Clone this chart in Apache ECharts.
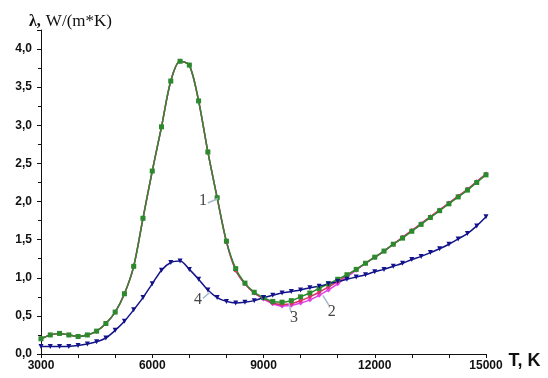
<!DOCTYPE html>
<html><head><meta charset="utf-8">
<script src="https://cdn.jsdelivr.net/npm/echarts@6/dist/echarts.min.js"></script>
<style>html,body{margin:0;padding:0;background:#fff}#c{width:548px;height:378px}</style>
</head><body><div id="c"></div>
<script>
// Temperature, K
const temps = [3000,3250,3500,3750,4000,4250,4500,4750,5000,5250,5500,5750,6000,6250,6500,6750,7000,7250,7500,7750,8000,8250,8500,8750,9000,9250,9500,9750,10000,10250,10500,10750,11000,11250,11500,11750,12000,12250,12500,12750,13000,13250,13500,13750,14000,14250,14500,14750,15000];
// Curve 1 (green)
const curve1 = [0.20,0.25,0.27,0.25,0.23,0.25,0.30,0.40,0.55,0.79,1.15,1.78,2.40,2.98,3.58,3.84,3.79,3.32,2.65,2.05,1.48,1.12,0.93,0.81,0.74,0.69,0.68,0.70,0.75,0.80,0.86,0.92,0.98,1.04,1.11,1.19,1.27,1.35,1.44,1.52,1.61,1.70,1.79,1.88,1.97,2.06,2.15,2.25,2.35];
// Curve 2 (red)
const curve2 = [0.20,0.25,0.27,0.25,0.23,0.25,0.30,0.40,0.55,0.79,1.15,1.78,2.40,2.98,3.58,3.84,3.79,3.32,2.65,2.05,1.47,1.10,0.92,0.80,0.73,0.67,0.65,0.66,0.70,0.75,0.81,0.88,0.95,1.03,1.11,1.19,1.27,1.35,1.44,1.53,1.62,1.71,1.80,1.89,1.98,2.07,2.16,2.26,2.36];
// Curve 3 (magenta)
const curve3 = [0.20,0.25,0.27,0.25,0.23,0.25,0.30,0.40,0.55,0.79,1.15,1.78,2.40,2.98,3.58,3.84,3.79,3.32,2.65,2.05,1.47,1.10,0.92,0.80,0.72,0.66,0.63,0.64,0.67,0.71,0.77,0.84,0.92,1.01,1.10,1.19,1.27,1.35,1.44,1.53,1.62,1.71,1.80,1.89,1.98,2.07,2.16,2.26,2.36];
// Curve 4 (navy)
const curve4 = [0.10,0.10,0.10,0.10,0.11,0.13,0.16,0.21,0.31,0.43,0.58,0.74,0.92,1.10,1.20,1.22,1.11,0.98,0.84,0.74,0.69,0.67,0.68,0.70,0.74,0.77,0.80,0.82,0.84,0.87,0.89,0.92,0.95,0.98,1.01,1.04,1.08,1.11,1.15,1.19,1.24,1.28,1.33,1.38,1.44,1.51,1.58,1.68,1.80];

const xTicks = [3000, 15000, 3000];      // min, max, interval
const yTicks = [0, 4.25, 0.5];
const curveNames = ['1','2','3','4'];
// annotation labels (data coords) and leader lines
const labelAt = [[7366,2.01],[10843,0.55],[9820,0.47],[7231,0.71]];
const leaderFrom = [[7500,1.98],[10762,0.64],[9740,0.55],[7366,0.73]];
const leaderTo = [[7770,2.04],[10600,0.77],[9684,0.67],[7555,0.81]];

function pairs(ys){ return temps.map((t,i)=>[t,ys[i]]); }
const labelFont = {fontFamily:'Liberation Serif', fontSize:16, color:'#444'};

function annot(i){
  return {
    markPoint:{silent:true, symbol:'circle', symbolSize:0, animation:false,
      label:{show:true, position:'inside', formatter:curveNames[i], ...labelFont},
      data:[{coord:labelAt[i]}]},
    markLine:{silent:true, symbol:['none','none'], animation:false,
      lineStyle:{color:'#a6b8cc', width:1.5, type:'solid'}, label:{show:false},
      data:[[{coord:leaderFrom[i]},{coord:leaderTo[i]}]]}
  };
}

const chart = echarts.init(document.getElementById('c'), null, {renderer:'canvas'});
const axisFont = {fontFamily:'Liberation Sans', fontWeight:'bold', fontSize:12, color:'#111'};
chart.setOption({
  animation:false,
  backgroundColor:'#fff',
  title:{
    text:'{a|λ,} {b|W/(m*K)}', left:24, top:8,
    textStyle:{rich:{
      a:{fontFamily:'Liberation Serif', fontWeight:'bold', fontSize:16, color:'#111'},
      b:{fontFamily:'Liberation Serif', fontWeight:'normal', fontSize:17, color:'#111'}
    }}
  },
  grid:{left:41, right:62, top:30, bottom:24, containLabel:false},
  xAxis:{
    type:'value', min:xTicks[0], max:xTicks[1], interval:xTicks[2],
    name:'T, K', nameLocation:'end', nameGap:22,
    nameTextStyle:{fontFamily:'Liberation Sans', fontWeight:'bold', fontSize:18, color:'#111', verticalAlign:'top', padding:[-2,0,0,0]},
    axisLine:{show:true, onZero:false, lineStyle:{color:'#111', width:1}},
    axisTick:{show:true, length:4, lineStyle:{color:'#111'}},
    minorTick:{show:true, splitNumber:3, length:4, lineStyle:{color:'#111'}},
    splitLine:{show:false},
    axisLabel:{...axisFont, margin:6, formatter:v=>String(v)}
  },
  yAxis:{
    type:'value', min:yTicks[0], max:yTicks[1], interval:yTicks[2],
    axisLine:{show:true, onZero:false, lineStyle:{color:'#111', width:1}},
    axisTick:{show:true, length:4, lineStyle:{color:'#111'}},
    minorTick:{show:true, splitNumber:2, length:3, lineStyle:{color:'#111'}},
    splitLine:{show:false},
    axisLabel:{...axisFont, margin:9, showMaxLabel:false,
      formatter:v=> (Math.abs(v*2-Math.round(v*2))<1e-6) ? v.toFixed(1).replace('.',',') : ''}
  },
  series:[
    {name:'3', type:'line', data:pairs(curve3), smooth:0.3, symbol:'diamond', symbolSize:5,
      lineStyle:{color:'#e040e8', width:1.5}, itemStyle:{color:'#e040e8'}, ...annot(2)},
    {name:'2', type:'line', data:pairs(curve2), smooth:0.3, symbol:'circle', symbolSize:4,
      lineStyle:{color:'#e0306a', width:1.5}, itemStyle:{color:'#e0306a'}, ...annot(1)},
    {name:'1', type:'line', data:pairs(curve1), smooth:0.3, symbol:'rect', symbolSize:5,
      lineStyle:{color:'#2b8a2b', width:1.5}, itemStyle:{color:'#2b8a2b'}, ...annot(0)},
    {name:'4', type:'line', data:pairs(curve4), smooth:0.3, symbol:'triangle', symbolSize:5, symbolRotate:180,
      lineStyle:{color:'#12128a', width:1.5}, itemStyle:{color:'#12128a'}, ...annot(3)}
  ]
});
</script></body></html>
